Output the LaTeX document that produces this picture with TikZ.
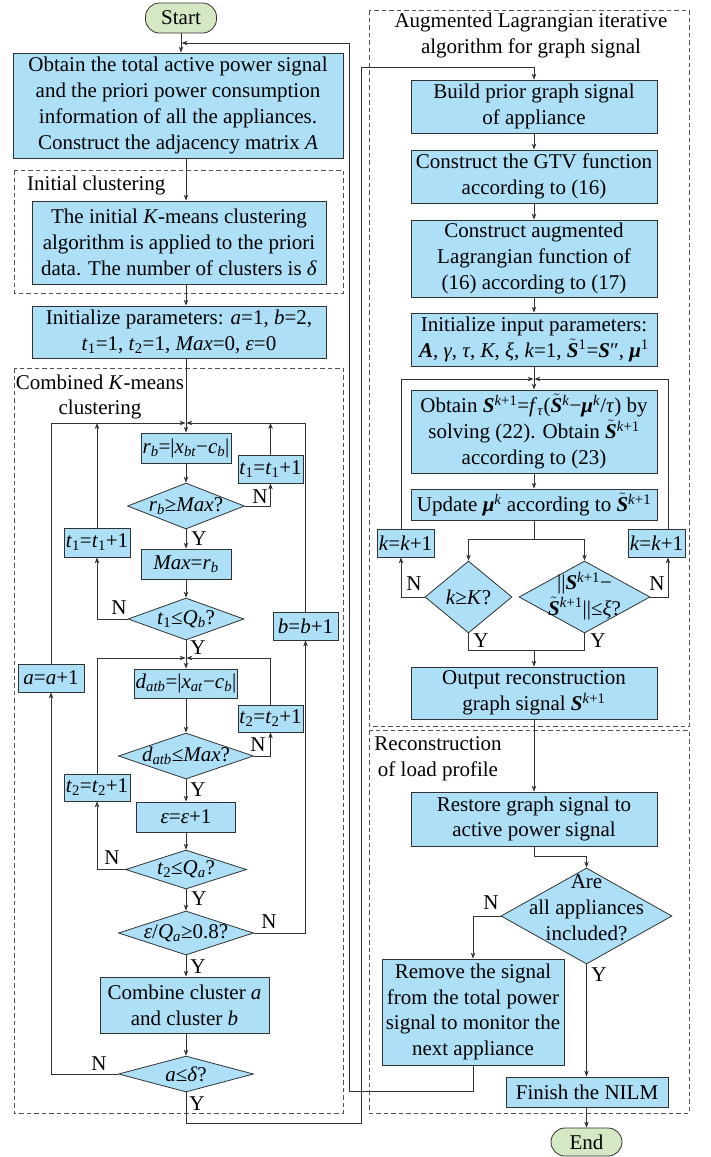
\documentclass[tikz,border=0pt]{standalone}
\usepackage{fontspec}
\setmainfont{Liberation Serif}
\usetikzlibrary{arrows.meta,shapes.geometric,calc}
\definecolor{boxblue}{RGB}{173,224,247}
\definecolor{pillgreen}{RGB}{213,232,195}
\definecolor{linec}{RGB}{50,50,50}
\newcommand\sbs[1]{\textsubscript{#1}}
\newcommand\sps[1]{\textsuperscript{#1}}
\newcommand\bi[1]{\textbf{\textit{#1}}}
\newcommand\tS{\ensuremath{\tilde{\mbox{\bi{S}}}}}
\newcommand\myff{\fontsize{21}{25.8}\selectfont}
\begin{document}
\begin{tikzpicture}[x=1pt,y=-1pt,
  box/.style={draw=linec, fill=boxblue, line width=0.8pt, inner sep=0pt, align=center, font=\myff},
  dia/.style={diamond, draw=linec, fill=boxblue, line width=0.8pt, inner sep=0pt},
  pill/.style={draw=linec, fill=pillgreen, line width=0.8pt, rounded corners=14pt, inner sep=0pt, font=\myff},
  txt/.style={font=\myff, inner sep=0pt, align=center},
  lbl/.style={font=\myff, inner sep=0pt},
  ln/.style={draw=linec, line width=0.8pt},
  arr/.style={ln, -{Stealth[length=6pt,width=4.5pt]}},
  grp/.style={draw=linec!85, dash pattern=on 4.5pt off 3pt, line width=0.8pt}]
\useasboundingbox (0,0) rectangle (711,1157);

% group frames
\draw[grp] (14,170) rectangle (343,293);
\draw[grp] (14,368) rectangle (343,1113);
\draw[grp] (369,10) rectangle (689,726);
\draw[grp] (369,730) rectangle (689,1113);
\node[lbl, anchor=west] (lic) at (27,185) {Initial clustering};
\node[txt] (lck) at (100,397) {Combined \textit{K}-means\\clustering};
\node[txt] (lal) at (531,35.5) {Augmented Lagrangian iterative\\algorithm for graph signal};
\node[txt] (lrc) at (438,759) {Reconstruction\\of load profile};

% left column
\node[pill, minimum width=71pt, minimum height=30pt] (start) at (181,18) {Start};
\node[box, minimum width=330pt, minimum height=105pt] (main) at (178,105.5) {Obtain the total active power signal\\and the priori power consumption\\information of all the appliances.\\Construct the adjacency matrix \textit{A}};
\node[box, minimum width=294pt, minimum height=83pt] (init) at (179,242.5) {The initial \textit{K}-means clustering\\algorithm is applied to the priori\\data. The number of clusters is \textit{δ}};
\node[box, minimum width=294pt, minimum height=52pt] (params) at (179,332) {Initialize parameters: \textit{a}=1, \textit{b}=2,\\\textit{t}\sbs{1}=1, \textit{t}\sbs{2}=1, \textit{Max}=0, \textit{ε}=0};
\node[box, minimum width=90pt, minimum height=30pt] (rb) at (186,448) {\textit{r}\sbs{\textit{b}}=|\textit{x}\sbs{\textit{bt}}−\textit{c}\sbs{\textit{b}}|};
\node[box, minimum width=65pt, minimum height=28pt] (t1R) at (270.5,469) {\textit{t}\sbs{1}=\textit{t}\sbs{1}+1};
\node[dia, minimum width=117pt, minimum height=46pt] (d1) at (186,506) {};
\node[txt] (d1t) at (186,506) {\textit{r}\sbs{\textit{b}}≥\textit{Max}?};
\node[box, minimum width=90pt, minimum height=30pt] (maxrb) at (186,564) {\textit{Max}=\textit{r}\sbs{\textit{b}}};
\node[box, minimum width=66pt, minimum height=29pt] (t1L) at (97,542.5) {\textit{t}\sbs{1}=\textit{t}\sbs{1}+1};
\node[dia, minimum width=116pt, minimum height=42pt] (d2) at (186,619) {};
\node[txt] (d2t) at (186,619) {\textit{t}\sbs{1}≤\textit{Q}\sbs{\textit{b}}?};
\node[box, minimum width=65pt, minimum height=28pt] (bb) at (305.5,626) {\textit{b}=\textit{b}+1};
\node[box, minimum width=66pt, minimum height=28pt] (aa) at (51,678) {\textit{a}=\textit{a}+1};
\node[box, minimum width=103pt, minimum height=29pt] (datb) at (186,683.5) {\textit{d}\sbs{\textit{atb}}=|\textit{x}\sbs{\textit{at}}−\textit{c}\sbs{\textit{b}}|};
\node[box, minimum width=65pt, minimum height=27pt] (t2R) at (270.5,718.5) {\textit{t}\sbs{2}=\textit{t}\sbs{2}+1};
\node[dia, minimum width=135pt, minimum height=46pt] (d3) at (186,756) {};
\node[txt] (d3t) at (186,756) {\textit{d}\sbs{\textit{atb}}≤\textit{Max}?};
\node[box, minimum width=99pt, minimum height=30pt] (eps) at (186,817) {\textit{ε}=\textit{ε}+1};
\node[box, minimum width=66pt, minimum height=27pt] (t2L) at (97,787.5) {\textit{t}\sbs{2}=\textit{t}\sbs{2}+1};
\node[dia, minimum width=121pt, minimum height=39pt] (d4) at (186,869.5) {};
\node[txt] (d4t) at (186,869.5) {\textit{t}\sbs{2}≤\textit{Q}\sbs{\textit{a}}?};
\node[dia, minimum width=135pt, minimum height=44pt] (d5) at (186,933) {};
\node[txt] (d5t) at (186,933) {\textit{ε}/\textit{Q}\sbs{\textit{a}}≥0.8?};
\node[box, minimum width=169pt, minimum height=56pt] (comb) at (184.5,1005) {Combine cluster \textit{a}\\and cluster \textit{b}};
\node[dia, minimum width=135pt, minimum height=36pt] (d6) at (186,1074) {};
\node[txt] (d6t) at (186,1074) {\textit{a}≤\textit{δ}?};

% right column
\node[box, minimum width=246pt, minimum height=53pt] (build) at (534,106.5) {Build prior graph signal\\of appliance};
\node[box, minimum width=246pt, minimum height=53pt] (gtv) at (534,176.5) {Construct the GTV function\\according to (16)};
\node[box, minimum width=246pt, minimum height=77pt] (aug) at (534,258.5) {Construct augmented\\Lagrangian function of\\(16) according to (17)};
\node[box, minimum width=246pt, minimum height=53pt] (initin) at (534,339.5) {Initialize input parameters:\\\bi{A}, \textit{γ}, \textit{τ}, \textit{K}, \textit{ξ}, \textit{k}=1, \tS\sps{1}=\bi{S}″, \bi{μ}\sps{1}};
\node[box, minimum width=246pt, minimum height=83pt] (obtain) at (534,431.5) {Obtain \bi{S}\sps{\textit{k}+1}=\textit{f}\sbs{\textit{τ}}(\tS\sps{\textit{k}}−\bi{μ}\sps{\textit{k}}/\textit{τ}) by\\solving (22). Obtain \tS\sps{\textit{k}+1}\\according to (23)};
\node[box, minimum width=246pt, minimum height=31pt] (update) at (534,504.5) {Update \bi{μ}\sps{\textit{k}} according to \tS\sps{\textit{k}+1}};
\node[box, minimum width=57pt, minimum height=28pt] (kL) at (405.5,543) {\textit{k}=\textit{k}+1};
\node[box, minimum width=57pt, minimum height=28pt] (kR) at (656.5,543) {\textit{k}=\textit{k}+1};
\node[dia, minimum width=87pt, minimum height=72pt] (dK) at (468.5,597) {};
\node[txt] (dKt) at (468.5,597) {\textit{k}≥\textit{K}?};
\node[dia, minimum width=131pt, minimum height=72pt] (dC) at (584.5,597) {};
\node[txt] (dCt) at (584.5,596) {||\bi{S}\sps{\textit{k}+1}−\\\tS\sps{\textit{k}+1}||≤\textit{ξ}?};
\node[box, minimum width=246pt, minimum height=52pt] (output) at (534,693) {Output reconstruction\\graph signal \bi{S}\sps{\textit{k}+1}};
\node[box, minimum width=246pt, minimum height=54pt] (restore) at (534,819) {Restore graph signal to\\active power signal};
\node[dia, minimum width=171pt, minimum height=96pt] (dA) at (586.5,916) {};
\node[txt] (dAt) at (586.5,908) {Are\\all appliances\\included?};
\node[box, minimum width=182pt, minimum height=106pt] (remove) at (473,1012) {Remove the signal\\from the total power\\signal to monitor the\\next appliance};
\node[box, minimum width=162pt, minimum height=30pt] (finish) at (587,1092) {Finish the NILM};
\node[pill, minimum width=71pt, minimum height=28pt] (end) at (586.5,1142) {End};

% labels
\node[lbl] (n1) at (260,497) {N};
\node[lbl] (y1) at (199,539) {Y};
\node[lbl] (n2) at (119,608) {N};
\node[lbl] (y2) at (198,648) {Y};
\node[lbl] (n3) at (258,745) {N};
\node[lbl] (y3) at (198,790) {Y};
\node[lbl] (n4) at (112,858) {N};
\node[lbl] (y4) at (199,899) {Y};
\node[lbl] (n5) at (269,922) {N};
\node[lbl] (y5) at (198,967) {Y};
\node[lbl] (n6) at (99,1064) {N};
\node[lbl] (y6) at (197,1104) {Y};
\node[lbl] (n7) at (414,584) {N};
\node[lbl] (y7) at (481,641) {Y};
\node[lbl] (n8) at (657,584) {N};
\node[lbl] (y8) at (598,641) {Y};
\node[lbl] (n9) at (491,903) {N};
\node[lbl] (y9) at (599,975) {Y};

% coordinates
\coordinate (sp) at (186,0);
\coordinate (j1) at (186,423);
\coordinate (j1l) at (185.6,423);
\coordinate (j1r) at (186.4,423);
\coordinate (j2) at (186,658);
\coordinate (j2l) at (185.6,658);
\coordinate (j2r) at (186.4,658);
\coordinate (j3) at (534,379);
\coordinate (j3l) at (533.6,379);
\coordinate (j3r) at (534.4,379);
\coordinate (kxl) at (401,0);
\coordinate (kxr) at (668,0);
\coordinate (c1) at (361,1123);
\coordinate (c2) at (361,67);
\coordinate (c3) at (349,1091);
\coordinate (c4) at (349,43);
\coordinate (c5) at (181.6,43);
\coordinate (s1) at (534,539);
\coordinate (m1) at (534,650);
\coordinate (r1) at (534,856);

% left connectors
\draw[arr] (start.south) -- (main.north -| start.south);
\draw[arr] (main.south -| sp) -- (init.north -| sp);
\draw[arr] (init.south -| sp) -- (params.north -| sp);
\draw[arr] (params.south -| sp) -- (rb.north);
\draw[arr] (aa.north) |- (j1l);
\draw[arr] (bb.north) |- (j1r);
\draw[arr] (t1L.north) -- (t1L.north |- j1);
\draw[arr] (t1R.north) -- (t1R.north |- j1);
\draw[arr] (rb.south) -- (d1.north);
\draw[arr] (d1.east) -| (t1R.south);
\draw[arr] (d1.south) -- (maxrb.north);
\draw[arr] (maxrb.south) -- (d2.north);
\draw[arr] (d2.west) -| (t1L.south);
\draw[arr] (d2.south) -- (datb.north);
\draw[arr] (t2L.north) |- (j2l);
\draw[arr] (t2R.north) |- (j2r);
\draw[arr] (datb.south) -- (d3.north);
\draw[arr] (d3.east) -| (t2R.south);
\draw[arr] (d3.south) -- (eps.north);
\draw[arr] (eps.south) -- (d4.north);
\draw[arr] (d4.west) -| (t2L.south);
\draw[arr] (d4.south) -- (d5.north);
\draw[arr] (d5.east) -| (bb.south);
\draw[arr] (d5.south) -- (comb.north -| sp);
\draw[arr] (comb.south -| sp) -- (d6.north);
\draw[arr] (d6.west) -| (aa.south);
\draw[arr] (d6.south) |- (c1) -- (c2) -| (build.north);
\draw[arr] (remove.south) |- (c3) -- (c4) -- (c5);

% right connectors
\draw[arr] (build.south) -- (gtv.north);
\draw[arr] (gtv.south) -- (aug.north);
\draw[arr] (aug.south) -- (initin.north);
\draw[arr] (initin.south) -- (obtain.north);
\draw[arr] (kL.north -| kxl) |- (j3l);
\draw[arr] (kR.north -| kxr) |- (j3r);
\draw[arr] (obtain.south) -- (update.north);
\draw[ln] (update.south) -- (s1);
\draw[arr] (s1) -| (dK.north);
\draw[arr] (s1) -| (dC.north);
\draw[arr] (dK.west) -| (kL.south -| kxl);
\draw[arr] (dC.east) -| (kR.south -| kxr);
\draw[ln] (dK.south) |- (m1);
\draw[ln] (dC.south) |- (m1);
\draw[arr] (m1) -- (output.north);
\draw[arr] (output.south) -- (restore.north);
\draw[arr] (restore.south) -- (r1) -| (dA.north);
\draw[arr] (dA.west) -| (remove.north);
\draw[arr] (dA.south) -- (dA.south |- finish.north);
\draw[arr] (finish.south -| end.north) -- (end.north);
\end{tikzpicture}
\end{document}
